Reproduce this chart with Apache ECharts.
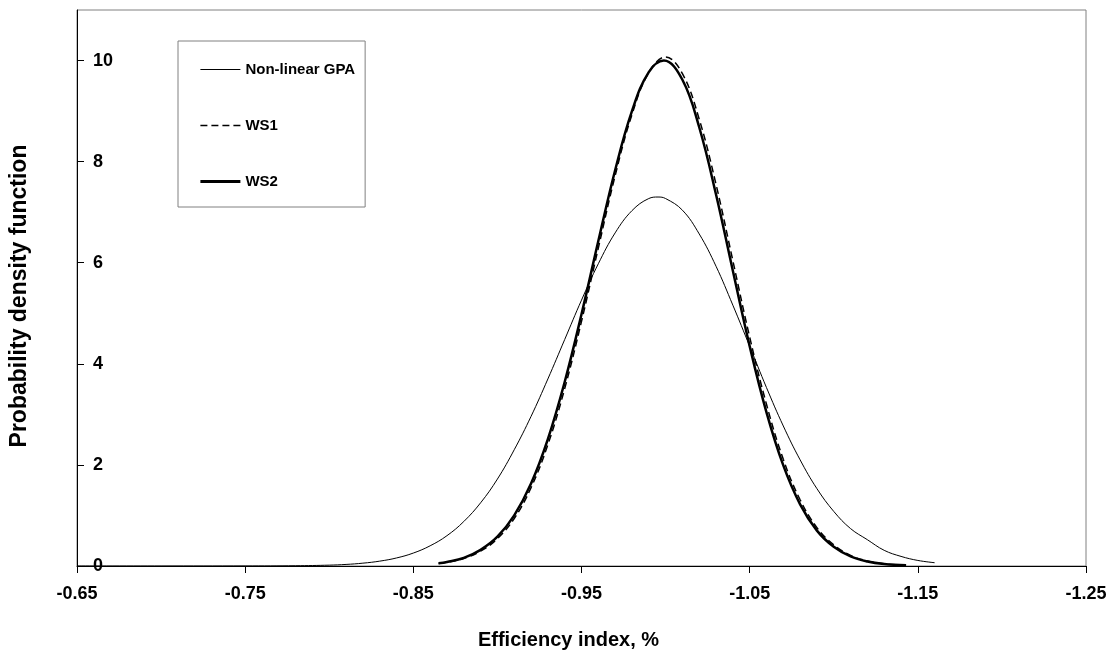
<!DOCTYPE html>
<html>
<head>
<meta charset="utf-8">
<script src="https://cdn.jsdelivr.net/npm/echarts@6/dist/echarts.min.js"></script>
<style>
html,body{margin:0;padding:0;background:#fff;}
#chart{width:1117px;height:664px;}
</style>
</head>
<body>
<div id="chart"></div>
<script>
// Series names
const seriesNames = ['Non-linear GPA', 'WS1', 'WS2'];
// Tick labels
const xTicks = [-0.65, -0.75, -0.85, -0.95, -1.05, -1.15, -1.25];
const yTicks = [0, 2, 4, 6, 8, 10];

// Non-linear GPA
const gpaX = [-0.65,-0.70,-0.75,-0.78,-0.80,-0.81,-0.82,-0.83,-0.84,-0.85,-0.86,-0.87,-0.88,-0.89,-0.90,-0.91,-0.92,-0.93,-0.94,-0.95,-0.96,-0.97,-0.98,-0.99,-0.9955,-1.00,-1.01,-1.02,-1.03,-1.04,-1.05,-1.06,-1.07,-1.08,-1.09,-1.10,-1.11,-1.12,-1.13,-1.14,-1.15,-1.16];
const gpaY = [0.000,0.000,0.001,0.005,0.017,0.031,0.056,0.096,0.159,0.256,0.40,0.60,0.88,1.25,1.72,2.30,2.96,3.70,4.48,5.26,5.98,6.59,7.03,7.27,7.30,7.27,7.04,6.57,5.93,5.16,4.35,3.53,2.77,2.10,1.53,1.08,0.74,0.52,0.31,0.19,0.11,0.065];

// WS1 (dashed)
const ws1X = [-0.865,-0.87,-0.88,-0.89,-0.90,-0.91,-0.92,-0.93,-0.94,-0.95,-0.96,-0.97,-0.98,-0.99,-1.00,-1.01,-1.02,-1.03,-1.04,-1.05,-1.06,-1.07,-1.08,-1.09,-1.10,-1.11,-1.12,-1.13,-1.143];
const ws1Y = [0.048,0.072,0.15,0.295,0.54,0.94,1.55,2.40,3.51,4.84,6.29,7.72,8.93,9.76,10.07,9.74,8.84,7.55,6.04,4.53,3.20,2.11,1.31,0.76,0.42,0.21,0.10,0.045,0.016];

// WS2 (thick solid)
const ws2X = [-0.865,-0.87,-0.88,-0.89,-0.90,-0.91,-0.92,-0.93,-0.94,-0.95,-0.96,-0.97,-0.98,-0.99,-0.999,-1.01,-1.02,-1.03,-1.04,-1.05,-1.06,-1.07,-1.08,-1.09,-1.10,-1.11,-1.12,-1.13,-1.143];
const ws2Y = [0.054,0.08,0.16,0.32,0.58,1.00,1.63,2.51,3.64,4.98,6.43,7.83,9.00,9.77,10.00,9.62,8.68,7.35,5.84,4.35,3.04,1.99,1.22,0.70,0.38,0.19,0.09,0.04,0.013];

const zip = (xs, ys) => xs.map((x, i) => [x, ys[i]]);

const chart = echarts.init(document.getElementById('chart'), null, {renderer: 'canvas'});
const font = 'Arial, "Liberation Sans", sans-serif';
const lineStyles = [
  {color: '#000', width: 1, type: 'solid'},
  {color: '#000', width: 1.5, type: [7, 4]},
  {color: '#000', width: 2.8, type: 'solid'}
];

chart.setOption({
  animation: false,
  backgroundColor: '#fff',
  grid: {left: 70, top: 10, right: 31, bottom: 98, show: true, borderColor: '#808080', borderWidth: 1, containLabel: false},
  legend: {
    left: 178, top: 41, orient: 'vertical',
    data: seriesNames.map((n, i) => ({name: n, lineStyle: lineStyles[i], itemStyle: {opacity: 0}})),
    itemWidth: 40, itemHeight: 12, itemGap: 41,
    padding: [21, 10, 18, 21],
    borderColor: '#808080', borderWidth: 1, backgroundColor: '#fff',
    itemStyle: {opacity: 0},
    textStyle: {fontFamily: font, fontWeight: 'bold', fontSize: 15, color: '#000'}
  },
  xAxis: {
    type: 'value', min: -1.25, max: -0.65, interval: 0.1, inverse: true,
    name: 'Efficiency index, %', nameLocation: 'middle', nameGap: 64,
    nameTextStyle: {fontFamily: font, fontWeight: 'bold', fontSize: 20, color: '#000', padding: [0, 26, 0, 0]},
    axisLine: {show: true, onZero: false, lineStyle: {color: '#000', width: 1}},
    axisTick: {show: true, inside: false, length: 7, lineStyle: {color: '#000'}},
    axisLabel: {fontFamily: font, fontWeight: 'bold', fontSize: 18, color: '#000', margin: 19,
      formatter: v => { const r = Math.round(v * 100) / 100; return xTicks.some(t => Math.abs(t - r) < 1e-6) ? r.toFixed(2) : ''; }},
    splitLine: {show: false}
  },
  yAxis: {
    type: 'value', min: 0, max: 11, interval: 2,
    name: 'Probability density function', nameLocation: 'middle', nameGap: 46, nameRotate: 90,
    nameTextStyle: {fontFamily: font, fontWeight: 'bold', fontSize: 23, color: '#000', padding: [0, 16, 0, 0]},
    axisLine: {show: true, lineStyle: {color: '#000', width: 1}},
    axisTick: {show: true, inside: true, length: 7, lineStyle: {color: '#000'}},
    axisLabel: {inside: true, fontFamily: font, fontWeight: 'bold', fontSize: 18, color: '#000', margin: 16, showMaxLabel: false,
      formatter: v => yTicks.indexOf(v) >= 0 ? String(v) : ''},
    splitLine: {show: false}
  },
  series: [
    {name: seriesNames[0], type: 'line', data: zip(gpaX, gpaY), symbol: 'none', smooth: 0.4,
      lineStyle: lineStyles[0], itemStyle: {color: '#000'}, z: 3},
    {name: seriesNames[1], type: 'line', data: zip(ws1X, ws1Y), symbol: 'none', smooth: 0.4,
      lineStyle: lineStyles[1], itemStyle: {color: '#000'}, z: 4},
    {name: seriesNames[2], type: 'line', data: zip(ws2X, ws2Y), symbol: 'none', smooth: 0.4,
      lineStyle: {color: '#000', width: 2.5}, itemStyle: {color: '#000'}, z: 2}
  ]
});
</script>
</body>
</html>
